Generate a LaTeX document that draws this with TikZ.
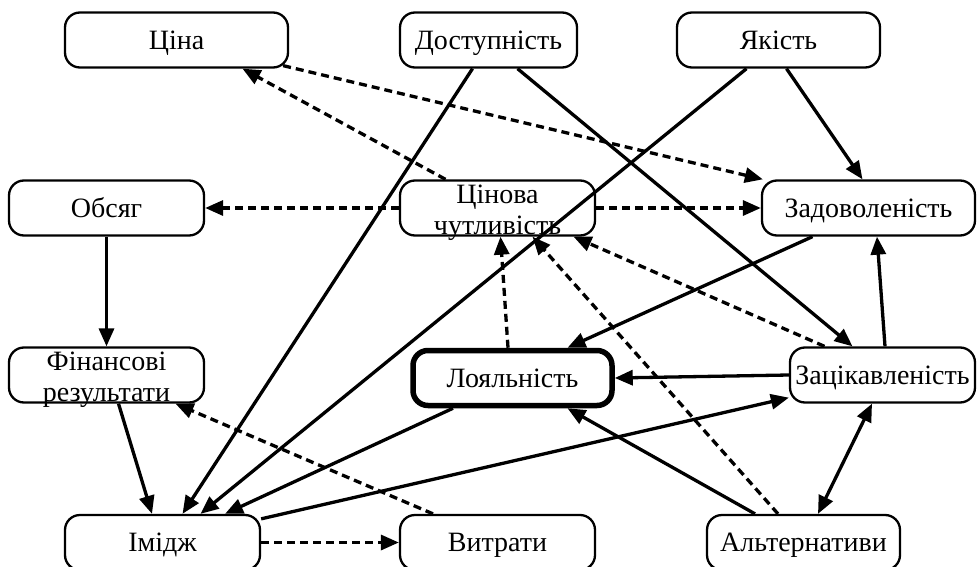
\documentclass[tikz,border=0pt]{standalone}
\usepackage{fontspec}
\setmainfont{Liberation Serif}
\usetikzlibrary{arrows.meta}
\newcommand{\twolines}[2]{\smash{\raisebox{-11pt}{\begin{tabular}{@{}c@{}}#1\\#2\end{tabular}}}}
\begin{document}
\begin{tikzpicture}[x=1pt,y=-1pt,
 box/.style={draw, rounded corners=15pt, line width=2.3pt, minimum height=55pt, inner sep=0pt, text height=18.5pt, text depth=0pt, font=\fontsize{28}{31.5}\selectfont, fill=white},
 box2/.style={box, text height=0pt, text depth=0pt},
 sol/.style={line width=3.3pt, -{Triangle[length=18pt,width=15pt]}},
 dsh/.style={sol, dash pattern=on 8pt off 5pt},
 bothsol/.style={line width=3.3pt, {Triangle[length=18pt,width=15pt]}-{Triangle[length=18pt,width=15pt]}},
]
\clip (0,0) rectangle (977,567);
% nodes
\node[box, minimum width=223pt] (tsina) at (176.5,40) {Ціна};
\node[box, minimum width=177pt] (dost) at (488.5,40) {Доступність};
\node[box, minimum width=203pt] (yak) at (778.5,40) {Якість};
\node[box, minimum width=195pt] (obs) at (106.5,208) {Обсяг};
\node[box2, minimum width=195pt] (cv) at (497.5,208) {\twolines{Цінова}{чутливість}};
\node[box, minimum width=213pt] (zad) at (868.5,208) {Задоволеність};
\node[box2, minimum width=195pt] (fin) at (106.5,375) {\twolines{Фінансові}{результати}};
\node[box, minimum width=199pt, line width=5.5pt] (loy) at (512.5,378) {Лояльність};
\node[box, minimum width=185pt] (zats) at (882.5,375) {Зацікавленість};
\node[box, minimum width=195pt] (imidzh) at (162.5,542.5) {Імідж};
\node[box, minimum width=195pt] (vyt) at (497.5,542.5) {Витрати};
\node[box, minimum width=193pt] (alt) at (803.5,542.5) {Альтернативи};
% dashed connectors
\draw[dsh] ([xshift=-6pt,yshift=3pt]tsina.south east) -- ([xshift=2pt]zad.north west);
\draw[dsh] ([xshift=-52pt]cv.north) -- ([xshift=66pt]tsina.south);
\draw[dsh] (cv.west) -- (obs.east);
\draw[dsh] (cv.east) -- (zad.west);
\draw[dsh] ([xshift=-58pt]zats.north) -- ([xshift=76pt]cv.south);
\draw[dsh] ([xshift=-4.5pt]loy.north) -- ([xshift=3pt]cv.south);
\draw[dsh] ([xshift=-25.5pt]alt.north) -- ([xshift=35pt]cv.south);
\draw[dsh] (imidzh.east) -- (vyt.west);
\draw[dsh] ([xshift=-64.5pt]vyt.north) -- ([xshift=69pt]fin.south);
% solid connectors
\draw[sol] ([xshift=-16pt]dost.south) -- ([xshift=20pt]imidzh.north);
\draw[sol] ([xshift=29pt]dost.south) -- ([xshift=-30pt]zats.north);
\draw[sol] ([xshift=8pt]yak.south) -- ([xshift=-6pt]zad.north);
\draw[sol] ([xshift=-32pt]yak.south) -- ([xshift=38pt]imidzh.north);
\draw[sol] ([xshift=-56pt]zad.south) -- ([xshift=55pt]loy.north);
\draw[sol] ([xshift=2.5pt]zats.north) -- ([xshift=8.5pt]zad.south);
\draw[sol] (zats.west) -- (loy.east);
\draw[sol] ([xshift=-48.5pt]alt.north) -- ([xshift=55pt]loy.south);
\draw[bothsol] ([xshift=14.5pt]alt.north) -- ([xshift=-10.5pt]zats.south);
\draw[sol] ([yshift=-5pt]imidzh.north east) -- ([yshift=6pt]zats.south west);
\draw[sol] (obs.south) -- (fin.north);
\draw[sol] ([xshift=12pt]fin.south) -- ([xshift=-10.5pt]imidzh.north);
\draw[sol] ([xshift=-59.5pt]loy.south) -- ([xshift=62.5pt]imidzh.north);
\end{tikzpicture}
\end{document}
